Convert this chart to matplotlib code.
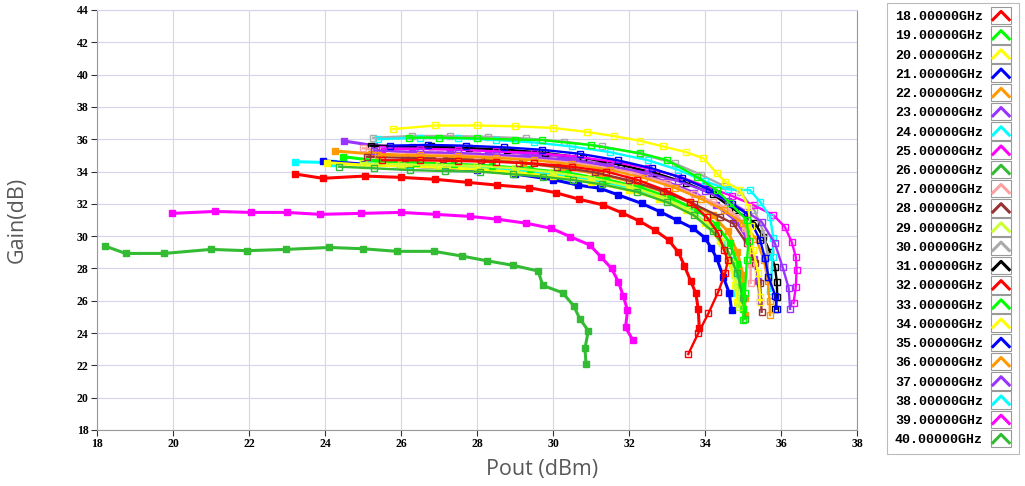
import matplotlib
matplotlib.use('Agg')
import matplotlib.pyplot as plt
from matplotlib.lines import Line2D
from matplotlib.patches import Rectangle
from matplotlib.legend_handler import HandlerBase

# Pout (dBm) / Gain (dB), one pair per frequency
pout_18 = [25.5, 26.5, 27.5, 28.5, 29.5, 30.5, 31.4, 32.2, 33.0, 33.6, 34.04, 34.35, 34.5, 34.6, 34.53, 34.35, 34.09, 33.82, 33.56]
gain_18 = [34.7, 34.7, 34.65, 34.6, 34.5, 34.3, 34.0, 33.5, 32.8, 32.13, 31.2, 30.17, 29.14, 28.5, 27.7, 26.56, 25.22, 23.98, 22.7]
pout_19 = [26.2, 27.0, 28.0, 29.0, 29.7, 31.0, 32.3, 33.0, 33.78, 34.31, 34.66, 35.1, 35.15, 35.1, 35.05, 35.0]
gain_19 = [36.1, 36.1, 36.05, 35.98, 35.95, 35.64, 35.13, 34.71, 33.68, 32.85, 32.03, 31.0, 29.7, 28.5, 26.46, 24.8]
pout_20 = [25.8, 26.9, 28.0, 29.0, 30.0, 30.9, 31.6, 32.3, 32.9, 33.5, 33.96, 34.31, 34.53, 34.92, 35.14, 35.2, 35.27, 35.4, 35.45, 35.45]
gain_20 = [36.63, 36.85, 36.85, 36.8, 36.7, 36.45, 36.2, 35.9, 35.55, 35.2, 34.82, 33.89, 33.37, 32.85, 31.82, 30.6, 29.14, 27.7, 26.25, 25.9]
pout_21 = [25.7, 26.7, 27.7, 28.7, 29.7, 30.7, 31.7, 32.6, 33.4, 34.1, 34.7, 35.1, 35.45, 35.58, 35.67, 35.85, 35.89]
gain_21 = [35.6, 35.65, 35.6, 35.5, 35.35, 35.1, 34.7, 34.2, 33.6, 32.9, 32.0, 31.4, 29.76, 28.62, 27.49, 26.3, 25.5]
pout_22 = [25.4, 26.5, 27.5, 28.5, 29.5, 30.5, 31.5, 32.4, 33.2, 33.9, 34.5, 35.0, 35.35, 35.55, 35.65, 35.7, 35.71]
gain_22 = [35.0, 35.0, 34.95, 34.85, 34.7, 34.45, 34.1, 33.6, 33.0, 32.3, 31.6, 30.8, 29.8, 28.5, 27.2, 26.0, 25.11]
pout_23 = [25.3, 26.5, 27.5, 28.5, 29.5, 30.5, 31.5, 32.5, 33.3, 34.0, 34.6, 35.1, 35.49, 35.84, 36.04, 36.2, 36.24]
gain_23 = [35.3, 35.2, 35.15, 35.05, 34.9, 34.7, 34.35, 33.9, 33.4, 32.8, 32.2, 31.5, 30.89, 29.55, 28.1, 26.8, 25.5]
pout_24 = [25.4, 26.5, 27.5, 28.5, 29.5, 30.5, 31.5, 32.5, 33.3, 34.0, 34.6, 35.18, 35.45, 35.71, 35.8, 35.78, 35.72]
gain_24 = [36.0, 36.1, 36.05, 35.95, 35.8, 35.55, 35.2, 34.7, 34.1, 33.4, 32.9, 32.85, 32.13, 31.2, 29.86, 28.72, 26.6]
pout_25 = [25.5, 26.5, 27.5, 28.5, 29.5, 30.5, 31.5, 32.5, 33.3, 34.0, 34.7, 35.3, 35.8, 36.1, 36.28, 36.39, 36.41, 36.39, 36.33]
gain_25 = [35.4, 35.4, 35.35, 35.25, 35.15, 34.95, 34.65, 34.2, 33.7, 33.1, 32.5, 31.9, 31.3, 30.58, 29.65, 28.72, 27.9, 26.87, 25.85]
pout_26 = [24.37, 25.3, 26.24, 27.16, 28.08, 28.95, 29.74, 30.53, 31.3, 32.2, 33.0, 33.7, 34.2, 34.6, 34.85, 35.0, 35.05]
gain_26 = [34.3, 34.2, 34.09, 34.03, 33.99, 33.83, 33.68, 33.47, 33.2, 32.75, 32.1, 31.3, 30.3, 29.1, 27.7, 26.2, 24.9]
pout_27 = [25.0, 26.0, 27.0, 28.0, 29.0, 30.0, 31.0, 32.0, 33.0, 33.7, 34.2, 34.57, 34.92, 35.05, 35.15, 35.2, 35.2]
gain_27 = [35.44, 35.2, 35.1, 35.0, 34.9, 34.7, 34.4, 34.0, 33.3, 32.6, 32.1, 31.72, 31.1, 30.48, 29.5, 28.3, 27.1]
pout_28 = [25.1, 26.1, 27.1, 28.1, 29.1, 30.1, 31.1, 32.0, 32.9, 33.7, 34.39, 34.74, 35.1, 35.32, 35.45, 35.49]
gain_28 = [34.92, 34.85, 34.8, 34.7, 34.55, 34.3, 33.95, 33.45, 32.8, 32.0, 31.2, 30.79, 29.55, 28.31, 27.08, 25.32]
pout_29 = [25.0, 26.0, 27.0, 28.0, 29.0, 30.0, 31.0, 32.0, 32.9, 33.6, 34.1, 34.45, 34.7, 34.85, 34.9]
gain_29 = [34.5, 34.45, 34.4, 34.35, 34.2, 33.95, 33.6, 33.1, 32.4, 31.6, 30.7, 29.6, 28.3, 26.9, 25.6]
pout_30 = [25.27, 26.3, 27.3, 28.3, 29.3, 30.3, 31.3, 32.3, 33.2, 33.9, 34.5, 34.92, 35.3, 35.55, 35.65, 35.65]
gain_30 = [36.09, 36.2, 36.2, 36.15, 36.05, 35.85, 35.55, 35.1, 34.5, 33.8, 33.1, 32.75, 31.6, 30.2, 28.8, 27.4]
pout_31 = [25.2, 26.8, 27.8, 28.8, 29.8, 30.8, 31.8, 32.7, 33.5, 34.2, 34.8, 35.32, 35.53, 35.71, 35.84, 35.89, 35.9, 35.85]
gain_31 = [35.6, 35.55, 35.45, 35.35, 35.15, 34.85, 34.4, 33.9, 33.3, 32.6, 31.6, 30.79, 29.96, 29.03, 28.1, 27.18, 26.25, 25.5]
pout_32 = [23.21, 23.94, 25.04, 25.99, 26.89, 27.75, 28.53, 29.37, 30.07, 30.68, 31.32, 31.81, 32.27, 32.68, 33.04, 33.3, 33.46, 33.62, 33.76, 33.82, 33.85]
gain_32 = [33.85, 33.58, 33.72, 33.64, 33.52, 33.33, 33.16, 33.0, 32.69, 32.29, 31.93, 31.45, 30.94, 30.38, 29.76, 29.0, 28.15, 27.24, 26.46, 25.5, 24.3]
pout_33 = [24.48, 25.4, 26.4, 27.4, 28.4, 29.4, 30.4, 31.4, 32.3, 33.1, 33.8, 34.3, 34.65, 34.85, 34.95, 35.0]
gain_33 = [34.92, 34.65, 34.55, 34.45, 34.35, 34.15, 33.9, 33.5, 33.0, 32.35, 31.6, 30.7, 29.6, 28.3, 26.9, 25.5]
pout_34 = [24.06, 25.0, 26.0, 27.0, 28.0, 29.0, 30.0, 31.0, 32.0, 32.8, 33.5, 34.0, 34.4, 34.65, 34.8, 34.85]
gain_34 = [34.55, 34.4, 34.35, 34.25, 34.15, 33.95, 33.7, 33.35, 32.85, 32.3, 31.6, 30.8, 29.7, 28.4, 27.0, 25.9]
pout_35 = [23.94, 25.0, 26.0, 27.0, 28.0, 29.0, 30.0, 30.66, 31.24, 31.72, 32.33, 32.82, 33.25, 33.69, 34.0, 34.17, 34.31, 34.48, 34.64, 34.7]
gain_35 = [34.67, 34.45, 34.35, 34.25, 34.1, 33.85, 33.5, 33.16, 32.96, 32.55, 32.03, 31.51, 31.0, 30.48, 29.9, 29.24, 28.62, 27.49, 26.46, 25.4]
pout_36 = [24.26, 25.2, 26.2, 27.2, 28.2, 29.2, 30.2, 31.2, 32.1, 32.9, 33.6, 34.2, 34.6, 34.85, 35.0, 35.05, 35.05]
gain_36 = [35.27, 35.1, 35.0, 34.9, 34.75, 34.55, 34.25, 33.85, 33.35, 32.75, 32.1, 31.3, 30.3, 29.0, 27.6, 26.2, 25.1]
pout_37 = [24.5, 25.3, 26.3, 27.3, 28.3, 29.3, 30.3, 31.3, 32.2, 33.0, 33.7, 34.3, 34.8, 35.1, 35.3, 35.4, 35.45]
gain_37 = [35.89, 35.6, 35.5, 35.4, 35.3, 35.1, 34.85, 34.45, 33.95, 33.35, 32.7, 31.9, 31.0, 29.9, 28.6, 27.2, 26.0]
pout_38 = [23.21, 24.2, 25.2, 26.2, 27.2, 28.2, 29.2, 30.2, 31.2, 32.1, 32.9, 33.6, 34.1, 34.45, 34.65, 34.79, 34.8]
gain_38 = [34.61, 34.55, 34.45, 34.4, 34.3, 34.2, 34.0, 33.75, 33.4, 32.9, 32.3, 31.6, 30.7, 29.6, 28.5, 27.6, 26.5]
pout_39 = [19.98, 21.1, 22.04, 22.99, 23.87, 24.95, 25.99, 26.91, 27.82, 28.53, 29.3, 29.96, 30.46, 30.97, 31.26, 31.54, 31.72, 31.85, 31.96, 31.91, 32.1]
gain_39 = [31.41, 31.53, 31.47, 31.47, 31.35, 31.41, 31.47, 31.35, 31.22, 31.05, 30.8, 30.48, 29.96, 29.45, 28.72, 28.0, 27.18, 26.29, 25.42, 24.35, 23.57]
pout_40 = [18.21, 18.75, 19.77, 21.0, 21.94, 22.97, 24.11, 25.0, 25.89, 26.87, 27.6, 28.25, 28.96, 29.61, 29.73, 30.25, 30.54, 30.71, 30.93, 30.84, 30.87]
gain_40 = [29.39, 28.93, 28.93, 29.18, 29.1, 29.18, 29.3, 29.22, 29.06, 29.06, 28.77, 28.48, 28.19, 27.84, 26.95, 26.5, 25.7, 24.87, 24.14, 23.05, 22.08]

freqs = list(range(18, 41))
pouts = [pout_18, pout_19, pout_20, pout_21, pout_22, pout_23, pout_24, pout_25,
         pout_26, pout_27, pout_28, pout_29, pout_30, pout_31, pout_32, pout_33,
         pout_34, pout_35, pout_36, pout_37, pout_38, pout_39, pout_40]
gains = [gain_18, gain_19, gain_20, gain_21, gain_22, gain_23, gain_24, gain_25,
         gain_26, gain_27, gain_28, gain_29, gain_30, gain_31, gain_32, gain_33,
         gain_34, gain_35, gain_36, gain_37, gain_38, gain_39, gain_40]

palette = ['#ff0000', '#00ff00', '#ffff00', '#0000ff', '#ff9900', '#9933ff', '#00ffff',
           '#ff00ff', '#33bb33', '#ffa0a0', '#993333', '#ccff33', '#aaaaaa', '#000000']


class BoxedIcon(HandlerBase):
    """Legend icon: small framed box with a caret-shaped trace."""
    def create_artists(self, legend, orig_handle, xdescent, ydescent,
                       width, height, fontsize, trans):
        box = Rectangle((-xdescent, -ydescent - 3), width, height + 6,
                        facecolor='white', edgecolor='#999999', lw=0.8, transform=trans)
        xs = [-xdescent + 0.1 * width, -xdescent + 0.5 * width, -xdescent + 0.9 * width]
        ys = [-ydescent + 0.05 * height, -ydescent + 0.95 * height, -ydescent + 0.05 * height]
        line = Line2D(xs, ys, color=orig_handle.get_color(), lw=2.2, transform=trans)
        return [box, line]


fig = plt.figure(figsize=(10.25, 4.86), dpi=100)
ax = fig.add_axes([97 / 1025, 56 / 486, 760 / 1025, 420 / 486])

handles = []
for i, f in enumerate(freqs):
    color = palette[i % len(palette)]
    filled = f >= 32
    h, = ax.plot(pouts[i], gains[i], color=color, lw=2.2 if filled else 1.7,
                 marker='s', markersize=4 if filled else 4.5,
                 markerfacecolor=color if filled else 'none',
                 markeredgecolor=color, markeredgewidth=1.0,
                 label=f'{f:.5f}GHz', zorder=2 + (40 - f) * 0.01)
    handles.append(h)

ax.set_xlim(18, 38)
ax.set_ylim(18, 44)
ax.set_xticks(range(18, 39, 2))
ax.set_yticks(range(18, 45, 2))
ax.grid(True, color='#d4d4ee', lw=0.8)
ax.set_axisbelow(True)
for side in ['left', 'bottom', 'right']:
    ax.spines[side].set_color('#999999')
ax.spines['top'].set_color('#d4d4ee')
ax.tick_params(direction='out', length=4, width=0.8, color='#333333', pad=2)
for lbl in ax.get_xticklabels() + ax.get_yticklabels():
    lbl.set_fontfamily('Liberation Serif')
    lbl.set_fontweight('bold')
    lbl.set_fontsize(8.5)

ax.set_xlabel('Pout (dBm)', fontsize=15.5, color='#595959', family='Open Sans')
ax.set_ylabel('Gain(dB)', fontsize=15.5, color='#595959', family='Open Sans')
ax.xaxis.set_label_coords(0.585, -0.07)
ax.yaxis.set_label_coords(-0.091, 0.5)

leg = fig.legend(handles=handles, handler_map={Line2D: BoxedIcon()},
                 loc='upper left', bbox_to_anchor=(887 / 1025, 1 - 3 / 486),
                 markerfirst=False, handlelength=1.55, handletextpad=0.6,
                 labelspacing=0.53, borderpad=0.6, borderaxespad=0.0, fancybox=False,
                 frameon=True, prop={'family': 'Liberation Mono', 'weight': 'bold', 'size': 9.5})
leg.get_frame().set_edgecolor('#aaaaaa')
leg.get_frame().set_linewidth(0.8)

fig.savefig('out.png', dpi=100)
